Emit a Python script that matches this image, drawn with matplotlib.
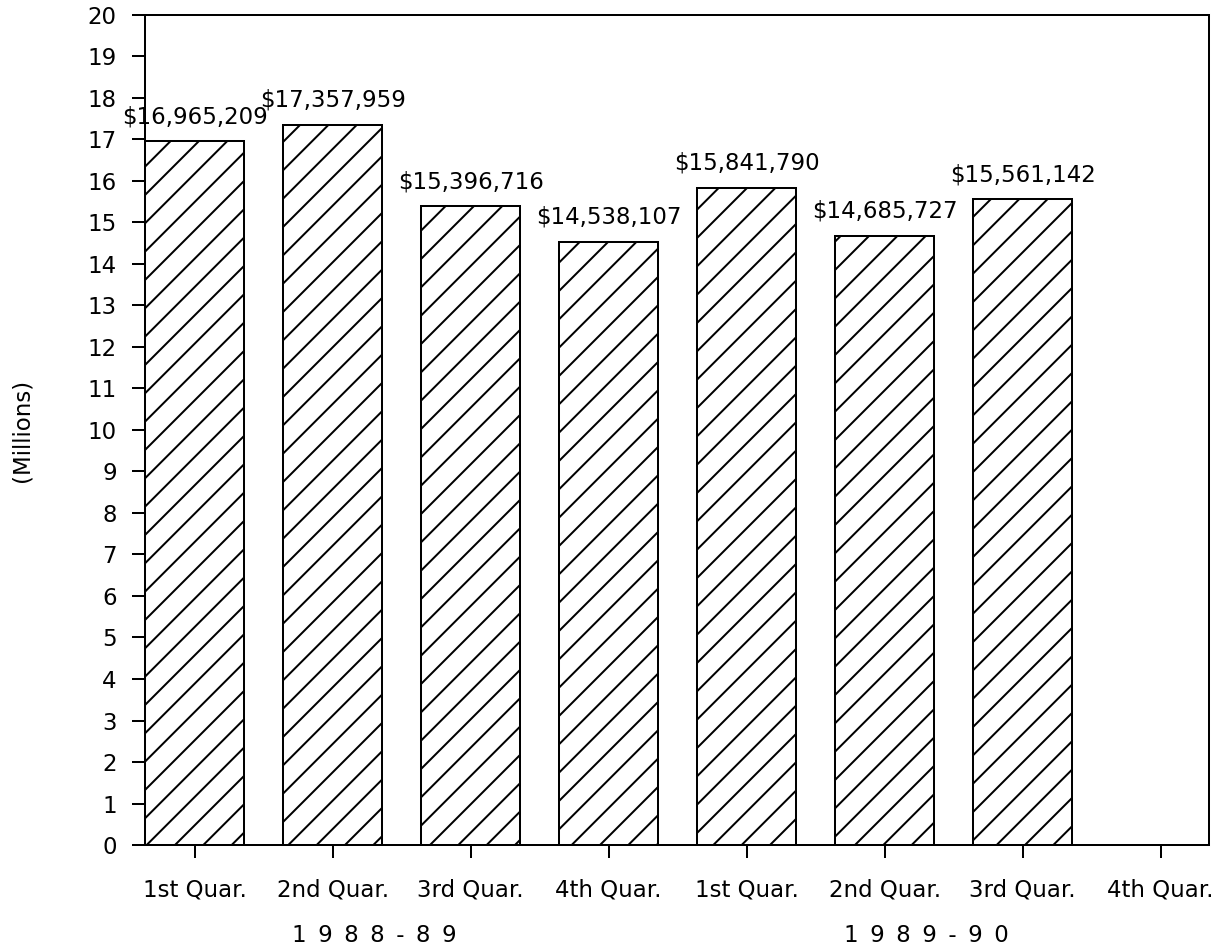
import numpy as np
import matplotlib
matplotlib.use('Agg')
import matplotlib.pyplot as plt

quarters = ['1st Quar.', '2nd Quar.', '3rd Quar.', '4th Quar.',
            '1st Quar.', '2nd Quar.', '3rd Quar.', '4th Quar.']
years = ['1 9 8 8 - 8 9', '1 9 8 9 - 9 0']
amounts = [16965209, 17357959, 15396716, 14538107,
           15841790, 14685727, 15561142]  # 4th quarter 1989-90 not reported

DPI = 170
plt.rcParams['font.family'] = ['DejaVu Sans']
plt.rcParams['hatch.linewidth'] = 0.85
plt.rcParams['hatch.color'] = 'black'

fig = plt.figure(figsize=(1222 / DPI, 947 / DPI), dpi=DPI)
ax = fig.add_axes([0.1187, 0.1077, 0.8707, 0.8765])

x = np.arange(len(amounts))
vals = np.array(amounts) / 1e6
bars = ax.bar(x, vals, width=0.72, facecolor='white', edgecolor='black',
              linewidth=0.85, hatch='//')

for xi, v, a in zip(x, vals, amounts):
    ax.annotate('${:,}'.format(a), xy=(xi, v), xytext=(0, 7.5),
                textcoords='offset points', ha='center', va='baseline',
                fontsize=9.7)

ax.set_xlim(-0.36, 7.35)
ax.set_ylim(0, 20)
ax.set_yticks(range(0, 21))
ax.set_xticks(range(len(quarters)))
ax.set_xticklabels(quarters)
ax.tick_params(axis='both', direction='out', length=5.5, width=0.85,
               labelsize=9.7, color='black')
ax.tick_params(axis='y', pad=6.5)
ax.tick_params(axis='x', pad=8.5)
for s in ax.spines.values():
    s.set_linewidth(0.85)

ax.set_ylabel('(Millions)', fontsize=9.7)
ax.yaxis.set_label_coords(-0.105, 0.5)

for g, yr in enumerate(years):
    ax.text(4 * g + 1.3, -0.117, yr.replace(' ', '\u2002'), fontsize=9.7,
            ha='center', va='baseline',
            transform=ax.get_xaxis_transform())

fig.savefig('out.png', dpi=DPI)
